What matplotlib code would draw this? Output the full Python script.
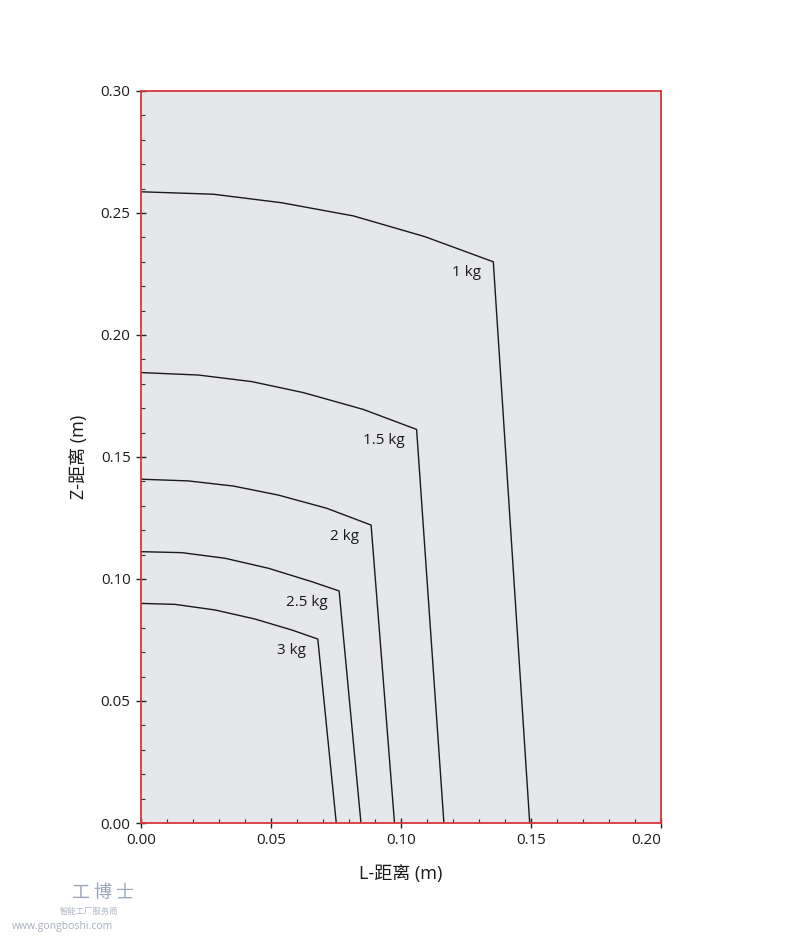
import matplotlib
matplotlib.use("Agg")
import matplotlib.pyplot as plt
from matplotlib.ticker import MultipleLocator

plt.rcParams['font.family'] = ['Open Sans', 'Noto Sans CJK SC', 'DejaVu Sans']

# Data (L in m, Z in m) for each payload curve
labels = ["1 kg", "1.5 kg", "2 kg", "2.5 kg", "3 kg"]
x_1kg = [0.0, 0.0278, 0.0541, 0.0817, 0.1092, 0.1355, 0.1495]
z_1kg = [0.2587, 0.2577, 0.2542, 0.2488, 0.2403, 0.2300, 0.0]
x_15kg = [0.0, 0.0220, 0.0426, 0.0624, 0.0855, 0.1060, 0.1165]
z_15kg = [0.1846, 0.1836, 0.1809, 0.1764, 0.1695, 0.1613, 0.0]
x_2kg = [0.0, 0.0182, 0.0355, 0.0528, 0.0714, 0.0885, 0.0975]
z_2kg = [0.1409, 0.1402, 0.1381, 0.1344, 0.1290, 0.1221, 0.0]
x_25kg = [0.0, 0.0157, 0.0323, 0.0490, 0.0657, 0.0762, 0.0846]
z_25kg = [0.1112, 0.1108, 0.1085, 0.1044, 0.0989, 0.0951, 0.0]
x_3kg = [0.0, 0.0131, 0.0285, 0.0438, 0.0580, 0.0680, 0.0751]
z_3kg = [0.0900, 0.0896, 0.0873, 0.0836, 0.0791, 0.0754, 0.0]

x_ticks = [0.00, 0.05, 0.10, 0.15, 0.20]
x_tick_labels = ["0.00", "0.05", "0.10", "0.15", "0.20"]
y_ticks = [0.00, 0.05, 0.10, 0.15, 0.20, 0.25, 0.30]
y_tick_labels = ["0.00", "0.05", "0.10", "0.15", "0.20", "0.25", "0.30"]

xs = [x_1kg, x_15kg, x_2kg, x_25kg, x_3kg]
zs = [z_1kg, z_15kg, z_2kg, z_25kg, z_3kg]

fig = plt.figure(figsize=(8.0, 9.46), dpi=100)
ax = fig.add_axes([141/800, 1 - 823/946, 520/800, 732/946])
ax.set_facecolor('#e6e7eb')

for lab, x, z in zip(labels, xs, zs):
    ax.plot(x, z, color='#1a1a1a', lw=1.0)
    # label near the corner point (second to last)
    ax.annotate(lab, xy=(x[-2], z[-2]), xytext=(-8.5, -8), textcoords='offset points',
                ha='right', va='center', fontsize=11, color='#1a1a1a')

ax.set_xlim(0, 0.20)
ax.set_ylim(0, 0.30)
ax.set_xticks(x_ticks, x_tick_labels)
ax.set_yticks(y_ticks, y_tick_labels)
ax.xaxis.set_minor_locator(MultipleLocator(0.01))
ax.yaxis.set_minor_locator(MultipleLocator(0.01))

ax.tick_params(which='major', direction='inout', length=7, width=1.0, color='#222222',
               labelsize=10.8, labelcolor='#1a1a1a', pad=4)
ax.tick_params(which='minor', direction='in', length=3, width=0.8, color='#333333')

xtl = ax.get_xticklabels()
xtl[-1].set_horizontalalignment('right')

for s in ax.spines.values():
    s.set_color('#d9363a')
    s.set_linewidth(1.3)

ax.set_xlabel('L-距离 (m)', fontsize=13, color='#1a1a1a', labelpad=12)
ax.set_ylabel('Z-距离 (m)', fontsize=13, color='#1a1a1a', labelpad=9)

# watermark
fig.text(72/800, 1 - 893/946, '工 博 士', fontsize=13, color='#9aa7b8', ha='left', va='center',
         family=['Noto Sans CJK SC', 'DejaVu Sans'])
fig.text(60/800, 1 - 911/946, '智能工厂服务商', fontsize=6, color='#b0b8c4', ha='left', va='center',
         family=['Noto Sans CJK SC', 'DejaVu Sans'])
fig.text(12/800, 1 - 926/946, 'www.gongboshi.com', fontsize=7.5, color='#a8b0bc', ha='left', va='center')

fig.savefig('out.png', dpi=100)
